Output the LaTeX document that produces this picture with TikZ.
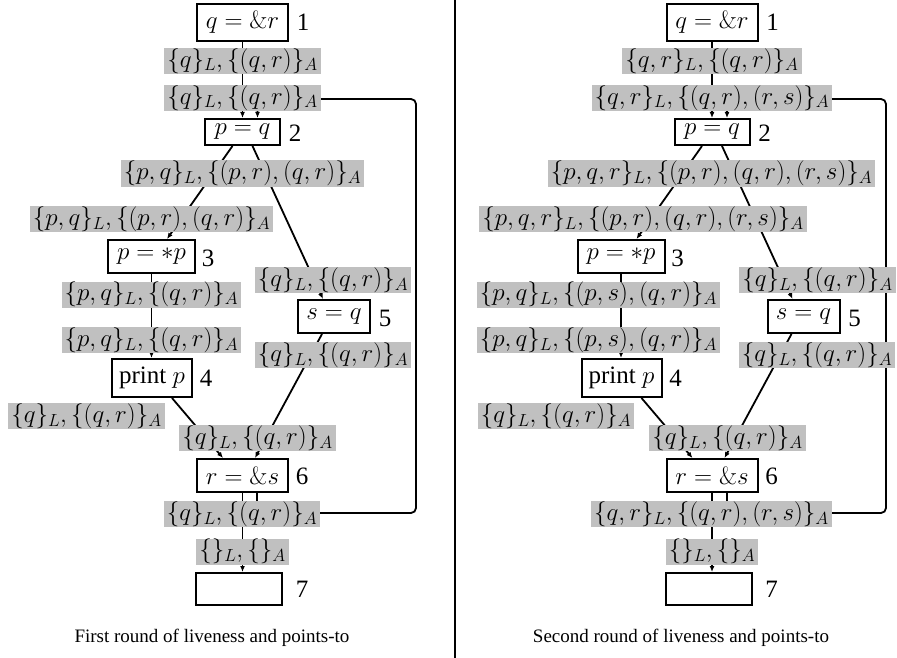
\RequirePackage{fix-cm}
\documentclass[tikz,border=0pt]{standalone}
\usepackage[no-math]{fontspec}
\setmainfont{Liberation Serif}
\usetikzlibrary{arrows.meta,positioning}
\pgfdeclarelayer{background}
\pgfsetlayers{background,main}
\definecolor{infogray}{RGB}{192,192,192}
\tikzset{
  stmt/.style={draw, line width=2pt, inner sep=0pt, fill=white, font=\fontsize{25}{30}\selectfont},
  info/.style={fill=infogray, inner xsep=3pt, inner ysep=0.5pt, font=\fontsize{25}{30}\selectfont},
  num/.style={inner sep=0pt, font=\fontsize{25}{30}\selectfont},
  captext/.style={inner sep=0pt, font=\fontsize{19}{23}\selectfont},
  flow/.style={line width=1.8pt, -{Latex[length=6pt,width=5pt]}},
  backflow/.style={line width=1.8pt, rounded corners=5pt, -{Latex[length=6pt,width=5pt]}},
  divider/.style={line width=2pt},
}
\begin{document}
\begin{tikzpicture}[x=1pt,y=-1pt]
\useasboundingbox (0,0) rectangle (897,658);
% ---------------- left panel ----------------
\node[stmt, minimum width=91pt, minimum height=37pt] (a1) at (242.5,22.5) {$q=\&r$};
\node[stmt, minimum width=75pt, minimum height=26pt] (a2) at (242.5,132) {$p=q$};
\node[stmt, minimum width=87pt, minimum height=33pt] (a3) at (151.5,256.5) {$p=*p$};
\node[stmt, minimum width=72pt, minimum height=33pt] (a5) at (334,316.5) {$s=q$};
\node[stmt, minimum width=80pt, minimum height=38pt] (a4) at (152,378) {print $p$};
\node[stmt, minimum width=91pt, minimum height=33pt] (a6) at (242.5,475.5) {$r=\&s$};
\node[stmt, minimum width=86pt, minimum height=32pt] (a7) at (239,589) {};
\node[num] (a1n) at (303,22) {1};
\node[num] (a2n) at (295,133) {2};
\node[num] (a3n) at (208,258) {3};
\node[num] (a4n) at (206,378) {4};
\node[num] (a5n) at (385,318) {5};
\node[num] (a6n) at (302,476) {6};
\node[num] (a7n) at (302,589) {7};
\node[info] (aL1) at (242.5,61) {$\{q\}_L, \{(q,r)\}_A$};
\node[info] (aL2) at (242.5,98) {$\{q\}_L, \{(q,r)\}_A$};
\node[info] (aL3) at (242.5,173.5) {$\{p,q\}_L, \{(p,r),(q,r)\}_A$};
\node[info] (aL4) at (151.5,219) {$\{p,q\}_L, \{(p,r),(q,r)\}_A$};
\node[info] (aL5) at (151.5,294.5) {$\{p,q\}_L, \{(q,r)\}_A$};
\node[info] (aL6) at (333,280) {$\{q\}_L, \{(q,r)\}_A$};
\node[info] (aL7) at (151.5,340) {$\{p,q\}_L, \{(q,r)\}_A$};
\node[info] (aL8) at (333,355) {$\{q\}_L, \{(q,r)\}_A$};
\node[info] (aL9) at (86.5,416) {$\{q\}_L, \{(q,r)\}_A$};
\node[info] (aL10) at (257.5,438) {$\{q\}_L, \{(q,r)\}_A$};
\node[info] (aL11) at (242,514) {$\{q\}_L, \{(q,r)\}_A$};
\node[info] (aL12) at (242.5,551.5) {$\{\}_L, \{\}_A$};
\coordinate (aB1) at (416,513);
\coordinate (aB2) at (416,99);
\node[captext] (acap) at (212,638) {First round of liveness and points-to};
\begin{pgfonlayer}{background}
\draw[flow] (a1.south) -- (a2.north);
\draw[flow] ([xshift=-10pt]a2.south) -- ([xshift=15.5pt]a3.north);
\draw[flow] ([xshift=10pt]a2.south) -- ([xshift=-11pt]a5.north);
\draw[flow] (a3.south) -- (a3.south |- a4.north);
\draw[flow] ([xshift=20pt]a4.south) -- ([xshift=-19.5pt]a6.north);
\draw[flow] ([xshift=-12pt]a5.south) -- ([xshift=12.5pt]a6.north);
\draw[flow] (a6.south) -- (a6.south |- a7.north);
\draw[backflow] ([xshift=14.5pt]a6.south) |- (aB1) -- (aB2) -| ([xshift=15pt]a2.north);
\end{pgfonlayer}
% ---------------- divider ----------------
\coordinate (divT) at (455,0);
\coordinate (divB) at (455,658);
\draw[divider] (divT) -- (divB);
% ---------------- right panel ----------------
\node[stmt, minimum width=91pt, minimum height=37pt] (b1) at (712,22.5) {$q=\&r$};
\node[stmt, minimum width=75pt, minimum height=26pt] (b2) at (712,132) {$p=q$};
\node[stmt, minimum width=87pt, minimum height=33pt] (b3) at (621,256.5) {$p=*p$};
\node[stmt, minimum width=72pt, minimum height=33pt] (b5) at (803.5,316.5) {$s=q$};
\node[stmt, minimum width=80pt, minimum height=38pt] (b4) at (621.5,378) {print $p$};
\node[stmt, minimum width=91pt, minimum height=33pt] (b6) at (712,475.5) {$r=\&s$};
\node[stmt, minimum width=86pt, minimum height=32pt] (b7) at (708.5,589) {};
\node[num] (b1n) at (772.5,22) {1};
\node[num] (b2n) at (764.5,133) {2};
\node[num] (b3n) at (677.5,258) {3};
\node[num] (b4n) at (675.5,378) {4};
\node[num] (b5n) at (854.5,318) {5};
\node[num] (b6n) at (771.5,476) {6};
\node[num] (b7n) at (771.5,589) {7};
\node[info] (bL1) at (712,61) {$\{q,r\}_L, \{(q,r)\}_A$};
\node[info] (bL2) at (712,98) {$\{q,r\}_L, \{(q,r),(r,s)\}_A$};
\node[info] (bL3) at (711.5,173.5) {$\{p,q,r\}_L, \{(p,r),(q,r),(r,s)\}_A$};
\node[info] (bL4) at (643,219) {$\{p,q,r\}_L, \{(p,r),(q,r),(r,s)\}_A$};
\node[info] (bL5) at (598.5,294.5) {$\{p,q\}_L, \{(p,s),(q,r)\}_A$};
\node[info] (bL6) at (817.5,280) {$\{q\}_L, \{(q,r)\}_A$};
\node[info] (bL7) at (598.5,340) {$\{p,q\}_L, \{(p,s),(q,r)\}_A$};
\node[info] (bL8) at (817,355) {$\{q\}_L, \{(q,r)\}_A$};
\node[info] (bL9) at (556,416) {$\{q\}_L, \{(q,r)\}_A$};
\node[info] (bL10) at (727.5,438) {$\{q\}_L, \{(q,r)\}_A$};
\node[info] (bL11) at (711.5,514) {$\{q,r\}_L, \{(q,r),(r,s)\}_A$};
\node[info] (bL12) at (712,551.5) {$\{\}_L, \{\}_A$};
\coordinate (bB1) at (886,513);
\coordinate (bB2) at (886,99);
\node[captext] (bcap) at (681,638) {Second round of liveness and points-to};
\begin{pgfonlayer}{background}
\draw[flow] (b1.south) -- (b2.north);
\draw[flow] ([xshift=-10pt]b2.south) -- ([xshift=15.5pt]b3.north);
\draw[flow] ([xshift=10pt]b2.south) -- ([xshift=-11pt]b5.north);
\draw[flow] (b3.south) -- (b3.south |- b4.north);
\draw[flow] ([xshift=20pt]b4.south) -- ([xshift=-19.5pt]b6.north);
\draw[flow] ([xshift=-12pt]b5.south) -- ([xshift=12.5pt]b6.north);
\draw[flow] (b6.south) -- (b6.south |- b7.north);
\draw[backflow] ([xshift=15pt]b6.south) |- (bB1) -- (bB2) -| ([xshift=15pt]b2.north);
\end{pgfonlayer}
\end{tikzpicture}
\end{document}
